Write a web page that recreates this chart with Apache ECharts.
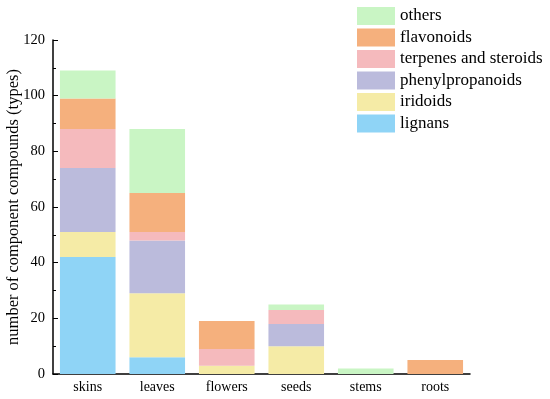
<!DOCTYPE html>
<html><head><meta charset="utf-8">
<script src="https://cdn.jsdelivr.net/npm/echarts@6/dist/echarts.min.js"></script>
<style>html,body{margin:0;padding:0;background:#fff}#c{width:550px;height:399px}</style>
</head><body><div id="c"></div>
<script>
const categories = ['skins','leaves','flowers','seeds','stems','roots'];
const lignans = [42, 6, 0, 0, 0, 0];
const iridoids = [9, 23, 3, 10, 0, 0];
const phenylpropanoids = [23, 19, 0, 8, 0, 0];
const terpenesSteroids = [14, 3, 6, 5, 0, 0];
const flavonoids = [11, 14, 10, 0, 0, 5];
const others = [10, 23, 0, 2, 2, 0];
const seriesNames = ['lignans','iridoids','phenylpropanoids','terpenes and steroids','flavonoids','others'];
const seriesData = [lignans, iridoids, phenylpropanoids, terpenesSteroids, flavonoids, others];
const colors = ['#8fd4f6','#f5eba6','#bbbbdc','#f5babd','#f5b07d','#c9f5c4'];
const font = '"Liberation Serif", "Times New Roman", serif';

const chart = echarts.init(document.getElementById('c'), null, {renderer:'canvas'});
chart.setOption({
  animation:false,
  color: colors,
  textStyle:{fontFamily:font},
  grid:{left:53, right:80, top:40, bottom:25, containLabel:false, outerBoundsMode:'none'},
  legend:{
    data: seriesNames.slice().reverse(),
    orient:'vertical', left:352, top:2,
    itemWidth:38, itemHeight:18, itemGap:3.5,
    icon:'rect',
    textStyle:{fontFamily:font, fontSize:17, color:'#000', padding:[0,0,0,0]}
  },
  xAxis:{
    type:'category', data:categories,
    axisLine:{lineStyle:{color:'#000', width:1.5}},
    axisTick:{show:false},
    axisLabel:{color:'#000', fontSize:14, fontFamily:font, margin:6}
  },
  yAxis:{
    type:'value', min:0, max:120, interval:20,
    name:'number of component compounds (types)',
    nameLocation:'middle', nameGap:31, nameMoveOverlap:false,
    nameTextStyle:{fontFamily:font, fontSize:16.5, color:'#000'},
    axisLine:{show:true, lineStyle:{color:'#000', width:1.5}},
    axisTick:{show:true, inside:true, length:5, lineStyle:{color:'#000'}},
    minorTick:{show:true, splitNumber:2, length:3, lineStyle:{color:'#000'}},
    splitLine:{show:false},
    axisLabel:{color:'#000', fontSize:14.5, fontFamily:font, margin:8}
  },
  series: seriesNames.map((n,i)=>({
    name:n, type:'bar', stack:'total', barWidth:'80%',
    data: seriesData[i]
  }))
});
</script></body></html>
